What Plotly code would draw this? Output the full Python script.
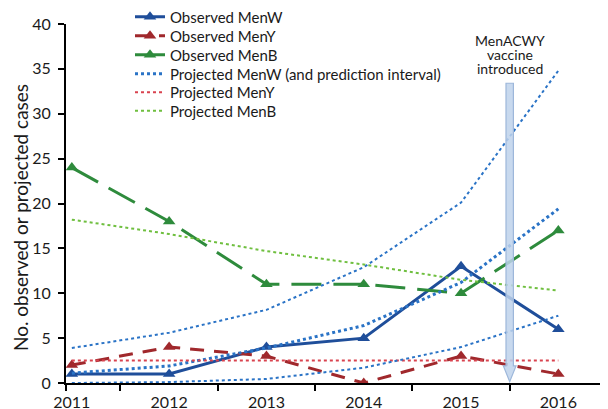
import plotly.graph_objects as go

years = [2011, 2012, 2013, 2014, 2015, 2016]

obs_menw = [1, 1, 4, 5, 13, 6]
obs_meny = [2, 4, 3, 0, 3, 1]
obs_menb = [24, 18, 11, 11, 10, 17]

proj_menw = [1.1, 1.9, 3.9, 6.4, 11.2, 19.4]
proj_menw_low = [0.0, 0.1, 0.45, 1.7, 4.0, 7.5]
proj_menw_high = [3.9, 5.6, 8.15, 12.9, 20.1, 34.8]
proj_meny = [2.5, 2.5, 2.5, 2.5, 2.5, 2.5]
proj_menb = [18.2, 16.6, 14.7, 13.2, 11.5, 10.3]

vaccine_year = 2015.5
vaccine_text = ["MenACWY", "vaccine", "introduced"]
y_title = "No. observed or projected cases"

FONT = "Lato"
TXT = "#1a1a1a"

# the page body has an 8px margin; figure is sized to fill the remaining window
W, H = 600, 401
L, T, R, B = 58, 16, 1, 26
PH = H - T - B
PW = W - L - R

fig = go.Figure()

legend_rows = [9, 28, 47, 66, 84.5, 103]  # item centres (figure px from top)

def legend_key(idx):
    return "legend" if idx == 0 else f"legend{idx+1}"

def obs(name, y, color, dash, idx):
    fig.add_trace(go.Scatter(
        x=years, y=y, name=name, mode="lines+markers",
        line=dict(color=color, width=3, dash=dash),
        marker=dict(symbol="triangle-up", size=11, color=color),
        legend=legend_key(idx),
    ))

def proj(name, y, color, width, idx=None):
    fig.add_trace(go.Scatter(
        x=years, y=y, name=name, mode="lines",
        line=dict(color=color, width=width, dash="dot"),
        showlegend=idx is not None,
        legend=legend_key(idx if idx is not None else 0),
    ))

obs("Observed MenW", obs_menw, "#1f4e9a", "solid", 0)
obs("Observed MenY", obs_meny, "#a0282c", "14px,10px", 1)
obs("Observed MenB", obs_menb, "#2e8b3c", "30px,12px", 2)
proj("Projected MenW (and prediction interval)", proj_menw, "#2a73c6", 3, 3)
proj("Projected MenY", proj_meny, "#d9434f", 2, 4)
proj("Projected MenB", proj_menb, "#6fbf3f", 2, 5)
proj("low", proj_menw_low, "#2a73c6", 2)
proj("high", proj_menw_high, "#2a73c6", 2)

# vaccine arrow (shape in data coordinates)
hw, hh = 0.038, 0.065
ytop, yneck, ytip = 33.4, 1.9, 0.15
xv = vaccine_year
path = (f"M {xv-hw},{ytop} L {xv+hw},{ytop} L {xv+hw},{yneck} L {xv+hh},{yneck} "
        f"L {xv},{ytip} L {xv-hh},{yneck} L {xv-hw},{yneck} Z")
fig.add_shape(type="path", path=path, xref="x", yref="y",
              fillcolor="rgba(190,210,235,0.85)", line=dict(color="#9db7da", width=1.2),
              layer="above")

for i, t in enumerate(vaccine_text):
    fig.add_annotation(x=xv, xref="x", y=1.0 + (T - (32.5 + 13.8 * i)) / PH, yref="paper",
                       text=t, showarrow=False, yanchor="middle",
                       font=dict(family=FONT, size=14, color=TXT))

# y-axis title
fig.add_annotation(x=(13 - L) / PW, xref="paper", y=1 - (210 - T) / PH, yref="paper",
                   text=y_title, textangle=-90, showarrow=False,
                   xanchor="center", yanchor="middle",
                   font=dict(family=FONT, size=19, color=TXT))

layout_legends = {}
for i, yc in enumerate(legend_rows):
    layout_legends[legend_key(i)] = dict(
        x=(162 - 40) / W, xref="container", xanchor="left",
        y=1 - yc / H, yref="container", yanchor="middle",
        bgcolor="rgba(0,0,0,0)", font=dict(family=FONT, size=15, color=TXT),
    )

fig.update_layout(
    width=W, height=H,
    margin=dict(l=L, r=R, t=T, b=B, autoexpand=False),
    paper_bgcolor="white", plot_bgcolor="white",
    font=dict(family=FONT, color=TXT),
    showlegend=True,
    **layout_legends,
)

fig.update_xaxes(
    range=[2010.94, 2016.5], tickvals=years, ticktext=[str(y) for y in years],
    showgrid=False, zeroline=False, showline=True, linecolor="black", linewidth=2,
    ticks="outside", ticklen=4, tickcolor="rgba(0,0,0,0)",
    tickfont=dict(family=FONT, size=16, color=TXT),
    minor=dict(tickvals=[2010.94, 2011.5, 2012.5, 2013.5, 2014.5, 2015.5, 2016.5],
               ticks="outside", ticklen=6, tickcolor="black", tickwidth=2, showgrid=False),
)
fig.update_yaxes(
    range=[0, 40], dtick=5, showgrid=False, zeroline=False,
    showline=True, linecolor="black", linewidth=2,
    ticks="outside", ticklen=6, tickcolor="black", tickwidth=2,
    tickfont=dict(family=FONT, size=16, color=TXT), ticklabelstandoff=4,
)

fig.write_html("out.html")
